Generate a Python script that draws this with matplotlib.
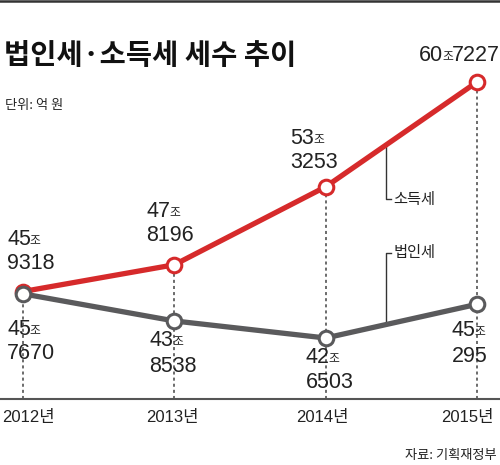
import matplotlib
matplotlib.use('agg')
import matplotlib.pyplot as plt
from matplotlib.lines import Line2D
import numpy as np

# data (조 / 억 원)
YEARS = [2012, 2013, 2014, 2015]
YEAR_LABELS = ['2012년', '2013년', '2014년', '2015년']
INCOME_JO = [45, 47, 53, 60]
INCOME_EOK = [9318, 8196, 3253, 7227]
CORP_JO = [45, 43, 42, 45]
CORP_EOK = [7670, 8538, 6503, 295]

RED = '#d62a2b'
GRAY = '#5a5a5c'
INK = '#222222'

W, H = 500, 465
NUM_FONT = ['Liberation Sans', 'Noto Sans CJK KR']
KR_FONT = ['Noto Sans CJK KR', 'DejaVu Sans']
NUM_SIZE = 15.5

# label offsets in pixels from the point: (left edge, line1 centre, line2 centre), y down
INCOME_OFFS = [(-16, -52, -28), (-28, -53, -29), (-35, -48, -24), (-58, -26, None)]
CORP_OFFS = [(-16, 36, 60), (-25, 20, 46), (-20, 20, 45), (-25, 26, 52)]


def fig_xy(px, py):
    return px / W, 1 - py / H


def draw_value(ax, x, y, jo, eok, offs, one_line=False):
    dx, dy1, dy2 = offs
    t1 = ax.annotate(str(jo), xy=(x, y), xytext=(dx, -dy1), textcoords='offset pixels',
                     ha='left', va='center', fontsize=NUM_SIZE, family=NUM_FONT, color=INK)
    t2 = ax.annotate('조', xy=(1, 0), xycoords=t1, xytext=(-1, 3), textcoords='offset pixels',
                     ha='left', va='bottom', fontsize=8.5, family=KR_FONT, color=INK)
    if one_line:
        ax.annotate(str(eok), xy=(1, 0), xycoords=t2, xytext=(-1, -3), textcoords='offset pixels',
                    ha='left', va='bottom', fontsize=NUM_SIZE, family=NUM_FONT, color=INK)
    else:
        ax.annotate(str(eok), xy=(x, y), xytext=(dx, -dy2), textcoords='offset pixels',
                    ha='left', va='center', fontsize=NUM_SIZE, family=NUM_FONT, color=INK)


def main():
    income = np.array(INCOME_JO) + np.array(INCOME_EOK) / 1e4
    corp = np.array(CORP_JO) + np.array(CORP_EOK) / 1e4

    fig = plt.figure(figsize=(W / 100, H / 100), dpi=100)
    ax = fig.add_axes([0, 0, 1, 1])
    ax.axis('off')
    ax.set_xlim(2011.848, 2015.152)
    ax.set_ylim(33.684, 66.511)
    y0, y1 = ax.get_ylim()
    x0, x1 = ax.get_xlim()
    px_y = (y1 - y0) / H
    px_x = (x1 - x0) / W
    base = y0 + (H - 399) * px_y

    # top rule and baseline
    fig.add_artist(Line2D([0, 1], [1 - 1.2 / H] * 2, transform=fig.transFigure,
                          color='#333333', lw=1.8))
    fig.add_artist(Line2D([0, 1], [1 - 399 / H] * 2, transform=fig.transFigure,
                          color='#555555', lw=1.5))

    # dotted drops
    tops = np.maximum(income, corp)
    ax.vlines(YEARS, base, tops, colors='#444444', linestyles=(0, (2, 2)), lw=1.1, zorder=1)

    ax.plot(YEARS, income, color=RED, lw=3.8, marker='o', ms=10.5, mfc='white',
            mec=RED, mew=2.2, zorder=3, solid_capstyle='butt')
    ax.plot(YEARS, corp, color=GRAY, lw=3.8, marker='o', ms=10.5, mfc='white',
            mec=GRAY, mew=2.2, zorder=4, solid_capstyle='butt')

    for i, yr in enumerate(YEARS):
        draw_value(ax, yr, income[i], INCOME_JO[i], INCOME_EOK[i], INCOME_OFFS[i],
                   one_line=INCOME_OFFS[i][2] is None)
        draw_value(ax, yr, corp[i], CORP_JO[i], CORP_EOK[i], CORP_OFFS[i])

    # year labels
    year_dx = [5, -2, -3, -10]
    for yr, lab, d in zip(YEARS, YEAR_LABELS, year_dx):
        ax.annotate(lab, xy=(yr, base), xytext=(d, -18), textcoords='offset pixels',
                    ha='center', va='center', fontsize=12, family=NUM_FONT, color=INK)

    # leader lines for series names
    lx = 2014 + 60 * px_x
    ry = np.interp(lx, YEARS, income)
    ax.plot([lx, lx, lx + 5 * px_x], [ry, ry - 54 * px_y, ry - 54 * px_y],
            color='#333333', lw=1.0, zorder=2)
    ax.annotate('소득세', xy=(lx, ry - 54 * px_y), xytext=(8, 0), textcoords='offset pixels',
                ha='left', va='center', fontsize=11, family=KR_FONT, color=INK)
    gy = np.interp(lx, YEARS, corp)
    ax.plot([lx, lx, lx + 5 * px_x], [gy, gy + 72 * px_y, gy + 72 * px_y],
            color='#333333', lw=1.0, zorder=2)
    ax.annotate('법인세', xy=(lx, gy + 72 * px_y), xytext=(8, 0), textcoords='offset pixels',
                ha='left', va='center', fontsize=11, family=KR_FONT, color=INK)

    # title, unit, source
    fig.text(*fig_xy(4, 56), '법인세·소득세 세수 추이', ha='left', va='center',
             fontsize=20.5, fontweight='bold', family=KR_FONT, color='#111111')
    fig.text(*fig_xy(5, 105), '단위: 억 원', ha='left', va='center',
             fontsize=9.5, family=KR_FONT, color=INK)
    fig.text(*fig_xy(497, 455), '자료: 기획재정부', ha='right', va='center',
             fontsize=9.5, family=KR_FONT, color=INK)

    fig.savefig('out.png', dpi=100, facecolor='white')


if __name__ == '__main__':
    main()
